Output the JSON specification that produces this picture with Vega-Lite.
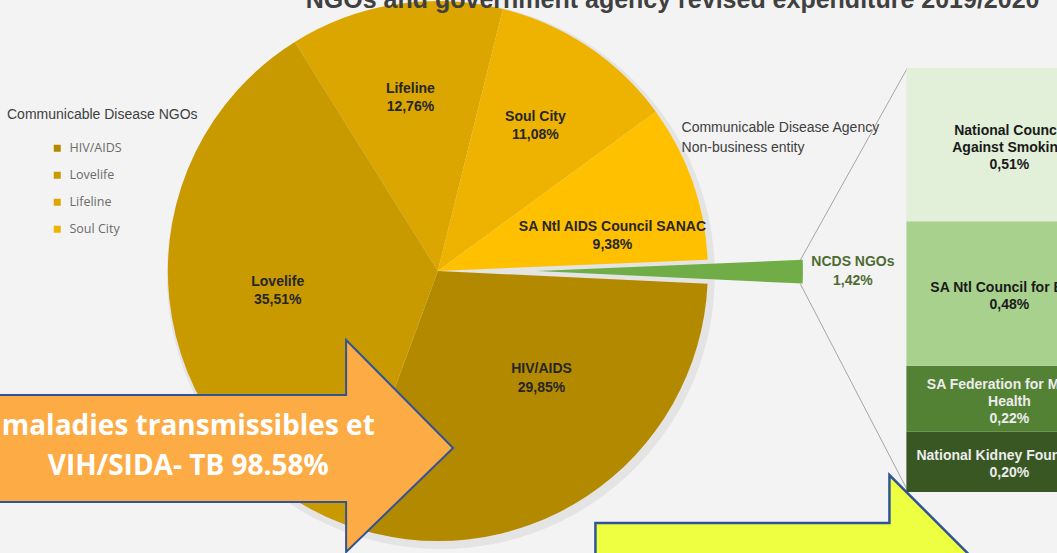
{
 "$schema": "https://vega.github.io/schema/vega-lite/v6.json",
 "width": 1057, "height": 553, "autosize": {"type": "none"}, "padding": 0,
 "background": "#f3f3f3",
 "config": {"view": {"stroke": null}, "axis": {"disable": true}},
 "datasets": {
  "pie": [
   {"name": "Lifeline", "label": "Lifeline\n12,76%", "share": 0.1276, "ord": 1},
   {"name": "Soul City", "label": "Soul City\n11,08%", "share": 0.1108, "ord": 2},
   {"name": "SA Ntl AIDS Council SANAC", "label": "SA Ntl AIDS Council SANAC\n9,38%", "share": 0.0938, "ord": 3},
   {"name": "NCDS NGOs", "label": "NCDS NGOs\n1,42%", "share": 0.0142, "ord": 4},
   {"name": "HIV/AIDS", "label": "HIV/AIDS\n29,85%", "share": 0.2985, "ord": 5},
   {"name": "Lovelife", "label": "Lovelife\n35,51%", "share": 0.3551, "ord": 6}
  ],
  "ncds": [
   {"name": "National Kidney Foundation", "label": "National Kidney Foundation\n0,20%", "share": 0.0020, "ord": 1},
   {"name": "SA Federation for Mental Health", "label": "SA Federation for Mental\nHealth\n0,22%", "share": 0.0022, "ord": 2},
   {"name": "SA Ntl Council for Blind", "label": "SA Ntl Council for Blind\n0,48%", "share": 0.0048, "ord": 3},
   {"name": "National Council Against Smoking", "label": "National Council\nAgainst Smoking\n0,51%", "share": 0.0051, "ord": 4}
  ],
  "one": [{"k": 1}]
 },
 "resolve": {"scale": {"y": "independent"}},
 "layer": [
  {
   "layer": [
    {"data": {"name": "one"},
     "mark": {"type": "arc", "theta": 0, "theta2": 6.2832, "outerRadius": 274, "fill": "#e4e4e4"},
     "encoding": {
      "x": {"datum": 440, "type": "quantitative", "scale": {"domain": [0, 1057], "nice": false, "zero": false}},
      "y": {"datum": 275, "type": "quantitative", "scale": {"domain": [553, 0], "nice": false, "zero": false}}
     }},
    {"data": {"name": "pie"},
     "mark": {"type": "arc", "outerRadius": 270},
     "encoding": {
      "x": {"datum": 437, "type": "quantitative", "scale": {"domain": [0, 1057], "nice": false, "zero": false}},
      "y": {"datum": 271, "type": "quantitative", "scale": {"domain": [553, 0], "nice": false, "zero": false}},
      "theta": {"field": "share", "type": "quantitative", "stack": true, "scale": {"range": [-0.5585, 5.7247]}},
      "order": {"field": "ord", "type": "quantitative"},
      "color": {"field": "name", "type": "nominal",
       "scale": {"domain": ["HIV/AIDS", "Lovelife", "Lifeline", "Soul City", "SA Ntl AIDS Council SANAC", "NCDS NGOs", "National Council Against Smoking", "SA Ntl Council for Blind", "SA Federation for Mental Health", "National Kidney Foundation"],
                 "range": ["#b38900", "#c99a00", "#dba600", "#eeb300", "#ffc000", "#70ad47", "#e2efd9", "#a9d18e", "#548235", "#385723"]},
       "legend": {"orient": "none", "legendX": 51, "legendY": 142, "title": null, "padding": 0,
        "values": ["HIV/AIDS", "Lovelife", "Lifeline", "Soul City"],
        "symbolType": "square", "symbolSize": 49, "symbolStrokeWidth": 0, "symbolOpacity": 1,
        "labelFont": "Open Sans", "labelFontSize": 12.5, "labelColor": "#6b6b6b", "labelOffset": 6, "rowPadding": 14}},
      "opacity": {"condition": {"test": "datum.name === 'NCDS NGOs'", "value": 0}, "value": 1}
     }},
    {"data": {"name": "pie"},
     "mark": {"type": "arc", "outerRadius": 266},
     "encoding": {
      "x": {"datum": 537, "type": "quantitative", "scale": {"domain": [0, 1057], "nice": false, "zero": false}},
      "y": {"datum": 271, "type": "quantitative", "scale": {"domain": [553, 0], "nice": false, "zero": false}},
      "theta": {"field": "share", "type": "quantitative", "stack": true, "scale": {"range": [-0.5585, 5.7247]}},
      "order": {"field": "ord", "type": "quantitative"},
      "color": {"field": "name", "type": "nominal"},
      "opacity": {"condition": {"test": "datum.name === 'NCDS NGOs'", "value": 1}, "value": 0}
     }},
    {"data": {"name": "pie"},
     "mark": {"type": "text", "radius": 175, "dy": -9, "font": "Liberation Sans", "fontWeight": "bold", "fontSize": 14, "lineBreak": "\n", "lineHeight": 18, "baseline": "middle", "align": "center", "color": "#262626"},
     "encoding": {
      "x": {"datum": 437, "type": "quantitative", "scale": {"domain": [0, 1057], "nice": false, "zero": false}},
      "y": {"datum": 271, "type": "quantitative", "scale": {"domain": [553, 0], "nice": false, "zero": false}},
      "theta": {"field": "share", "type": "quantitative", "stack": true, "scale": {"range": [-0.5585, 5.7247]}},
      "order": {"field": "ord", "type": "quantitative"},
      "detail": {"field": "name", "type": "nominal"},
      "text": {"field": "label", "type": "nominal"},
      "opacity": {"condition": {"test": "datum.name === 'Lifeline' || datum.name === 'Soul City'", "value": 1}, "value": 0}
     }},
    {"data": {"name": "pie"},
     "mark": {"type": "text", "radius": 161, "dy": -6, "font": "Liberation Sans", "fontWeight": "bold", "fontSize": 14, "lineBreak": "\n", "lineHeight": 18, "baseline": "middle", "align": "center", "color": "#262626"},
     "encoding": {
      "x": {"datum": 437, "type": "quantitative", "scale": {"domain": [0, 1057], "nice": false, "zero": false}},
      "y": {"datum": 271, "type": "quantitative", "scale": {"domain": [553, 0], "nice": false, "zero": false}},
      "theta": {"field": "share", "type": "quantitative", "stack": true, "scale": {"range": [-0.5585, 5.7247]}},
      "order": {"field": "ord", "type": "quantitative"},
      "detail": {"field": "name", "type": "nominal"},
      "text": {"field": "label", "type": "nominal"},
      "opacity": {"condition": {"test": "datum.name === 'Lovelife'", "value": 1}, "value": 0}
     }},
    {"data": {"name": "pie"},
     "mark": {"type": "text", "radius": 178, "thetaOffset": 0.14, "dy": -9, "font": "Liberation Sans", "fontWeight": "bold", "fontSize": 14, "lineBreak": "\n", "lineHeight": 18, "baseline": "middle", "align": "center", "color": "#262626"},
     "encoding": {
      "x": {"datum": 437, "type": "quantitative", "scale": {"domain": [0, 1057], "nice": false, "zero": false}},
      "y": {"datum": 271, "type": "quantitative", "scale": {"domain": [553, 0], "nice": false, "zero": false}},
      "theta": {"field": "share", "type": "quantitative", "stack": true, "scale": {"range": [-0.5585, 5.7247]}},
      "order": {"field": "ord", "type": "quantitative"},
      "detail": {"field": "name", "type": "nominal"},
      "text": {"field": "label", "type": "nominal"},
      "opacity": {"condition": {"test": "datum.name === 'SA Ntl AIDS Council SANAC'", "value": 1}, "value": 0}
     }},
    {"data": {"name": "pie"},
     "mark": {"type": "text", "radius": 148, "thetaOffset": -0.19, "dy": -8, "font": "Liberation Sans", "fontWeight": "bold", "fontSize": 14, "lineBreak": "\n", "lineHeight": 19, "baseline": "middle", "align": "center", "color": "#262626"},
     "encoding": {
      "x": {"datum": 437, "type": "quantitative", "scale": {"domain": [0, 1057], "nice": false, "zero": false}},
      "y": {"datum": 271, "type": "quantitative", "scale": {"domain": [553, 0], "nice": false, "zero": false}},
      "theta": {"field": "share", "type": "quantitative", "stack": true, "scale": {"range": [-0.5585, 5.7247]}},
      "order": {"field": "ord", "type": "quantitative"},
      "detail": {"field": "name", "type": "nominal"},
      "text": {"field": "label", "type": "nominal"},
      "opacity": {"condition": {"test": "datum.name === 'HIV/AIDS'", "value": 1}, "value": 0}
     }},
    {"data": {"name": "pie"},
     "mark": {"type": "text", "radius": 316, "dy": -9.5, "font": "Liberation Sans", "fontWeight": "bold", "fontSize": 14, "lineBreak": "\n", "lineHeight": 19, "baseline": "middle", "align": "center", "color": "#4f6b34"},
     "encoding": {
      "x": {"datum": 537, "type": "quantitative", "scale": {"domain": [0, 1057], "nice": false, "zero": false}},
      "y": {"datum": 271, "type": "quantitative", "scale": {"domain": [553, 0], "nice": false, "zero": false}},
      "theta": {"field": "share", "type": "quantitative", "stack": true, "scale": {"range": [-0.5585, 5.7247]}},
      "order": {"field": "ord", "type": "quantitative"},
      "detail": {"field": "name", "type": "nominal"},
      "text": {"field": "label", "type": "nominal"},
      "opacity": {"condition": {"test": "datum.name === 'NCDS NGOs'", "value": 1}, "value": 0}
     }},
    {"data": {"name": "one"},
     "mark": {"type": "rule", "color": "#a6a6a6", "strokeWidth": 1},
     "encoding": {
      "x": {"datum": 803, "type": "quantitative", "scale": {"domain": [0, 1057], "nice": false, "zero": false}},
      "y": {"datum": 260, "type": "quantitative", "scale": {"domain": [553, 0], "nice": false, "zero": false}},
      "x2": {"datum": 911}, "y2": {"datum": 68}
     }},
    {"data": {"name": "one"},
     "mark": {"type": "rule", "color": "#a6a6a6", "strokeWidth": 1},
     "encoding": {
      "x": {"datum": 803, "type": "quantitative", "scale": {"domain": [0, 1057], "nice": false, "zero": false}},
      "y": {"datum": 284, "type": "quantitative", "scale": {"domain": [553, 0], "nice": false, "zero": false}},
      "x2": {"datum": 912}, "y2": {"datum": 492}
     }},
    {"data": {"name": "one"},
     "mark": {"type": "text", "text": "Communicable Disease NGOs", "align": "left", "baseline": "middle", "font": "Liberation Sans", "fontSize": 14, "color": "#404040"},
     "encoding": {
      "x": {"datum": 2, "type": "quantitative", "scale": {"domain": [0, 1057], "nice": false, "zero": false}},
      "y": {"datum": 115, "type": "quantitative", "scale": {"domain": [553, 0], "nice": false, "zero": false}}
     }},
    {"data": {"name": "one"},
     "mark": {"type": "text", "text": "Communicable Disease Agency\nNon-business entity", "lineBreak": "\n", "lineHeight": 20, "align": "left", "baseline": "top", "font": "Liberation Sans", "fontSize": 14, "color": "#404040"},
     "encoding": {
      "x": {"datum": 683, "type": "quantitative", "scale": {"domain": [0, 1057], "nice": false, "zero": false}},
      "y": {"datum": 121, "type": "quantitative", "scale": {"domain": [553, 0], "nice": false, "zero": false}}
     }},
    {"data": {"name": "one"},
     "mark": {"type": "text", "text": "NGOs and government agency revised expenditure 2019/2020", "align": "center", "baseline": "alphabetic", "font": "Liberation Sans", "fontWeight": "bold", "fontSize": 25, "color": "#404040"},
     "encoding": {
      "x": {"datum": 674, "type": "quantitative", "scale": {"domain": [0, 1057], "nice": false, "zero": false}},
      "y": {"datum": 8, "type": "quantitative", "scale": {"domain": [553, 0], "nice": false, "zero": false}}
     }},
    {"data": {"name": "one"},
     "mark": {"type": "point", "shape": "M-2.1,-0.51L1.43,-0.51L1.43,-1.06L2.5,0.02L1.43,1.06L1.43,0.56L-2.1,0.56Z", "size": 40000, "filled": true, "fill": "#fdab45", "stroke": "#2f5597", "strokeWidth": 2, "opacity": 1, "fillOpacity": 1, "strokeOpacity": 1},
     "encoding": {
      "x": {"datum": 200, "type": "quantitative", "scale": {"domain": [0, 1057], "nice": false, "zero": false}},
      "y": {"datum": 446, "type": "quantitative", "scale": {"domain": [553, 0], "nice": false, "zero": false}}
     }},
    {"data": {"name": "one"},
     "mark": {"type": "text", "text": "maladies transmissibles et\nVIH/SIDA- TB 98.58%", "lineBreak": "\n", "lineHeight": 40, "dy": -20, "align": "center", "baseline": "middle", "font": "Open Sans", "fontWeight": "bold", "fontSize": 28, "color": "#ffffff"},
     "encoding": {
      "x": {"datum": 185, "type": "quantitative", "scale": {"domain": [0, 1057], "nice": false, "zero": false}},
      "y": {"datum": 447, "type": "quantitative", "scale": {"domain": [553, 0], "nice": false, "zero": false}}
     }},
    {"data": {"name": "one"},
     "mark": {"type": "point", "shape": "M-2.02,-0.37L0.92,-0.37L0.92,-0.85L1.88,0.11L0.92,1.07L0.92,0.59L-2.02,0.59Z", "size": 40000, "filled": true, "fill": "#eeff41", "stroke": "#2f5597", "strokeWidth": 2.5, "opacity": 1, "fillOpacity": 1, "strokeOpacity": 1},
     "encoding": {
      "x": {"datum": 800, "type": "quantitative", "scale": {"domain": [0, 1057], "nice": false, "zero": false}},
      "y": {"datum": 560, "type": "quantitative", "scale": {"domain": [553, 0], "nice": false, "zero": false}}
     }}
   ]
  },
  {
   "data": {"name": "ncds"},
   "layer": [
    {"mark": {"type": "bar", "orient": "vertical"},
     "encoding": {
      "x": {"datum": 910, "type": "quantitative", "scale": {"domain": [0, 1057], "nice": false, "zero": false}},
      "x2": {"datum": 1118},
      "y": {"field": "share", "type": "quantitative", "stack": "zero", "scale": {"domain": [0, 0.0141], "range": [492, 68], "nice": false}},
      "order": {"field": "ord", "type": "quantitative"},
      "color": {"field": "name", "type": "nominal"}
     }},
    {"mark": {"type": "text", "font": "Liberation Sans", "fontWeight": "bold", "fontSize": 14, "lineBreak": "\n", "lineHeight": 17, "baseline": "middle", "align": "center",
              "dy": {"expr": "3 - (length(split(datum.label, '\\n')) - 1) * 8.5"}},
     "encoding": {
      "x": {"datum": 1014, "type": "quantitative", "scale": {"domain": [0, 1057], "nice": false, "zero": false}},
      "y": {"field": "share", "type": "quantitative", "stack": "zero", "bandPosition": 0.5, "scale": {"domain": [0, 0.0141], "range": [492, 68], "nice": false}},
      "order": {"field": "ord", "type": "quantitative"},
      "detail": {"field": "name", "type": "nominal"},
      "text": {"field": "label", "type": "nominal"},
      "color": {"condition": {"test": "datum.ord <= 2", "value": "#ececec"}, "value": "#1a1a1a"}
     }}
   ]
  }
 ]
}
